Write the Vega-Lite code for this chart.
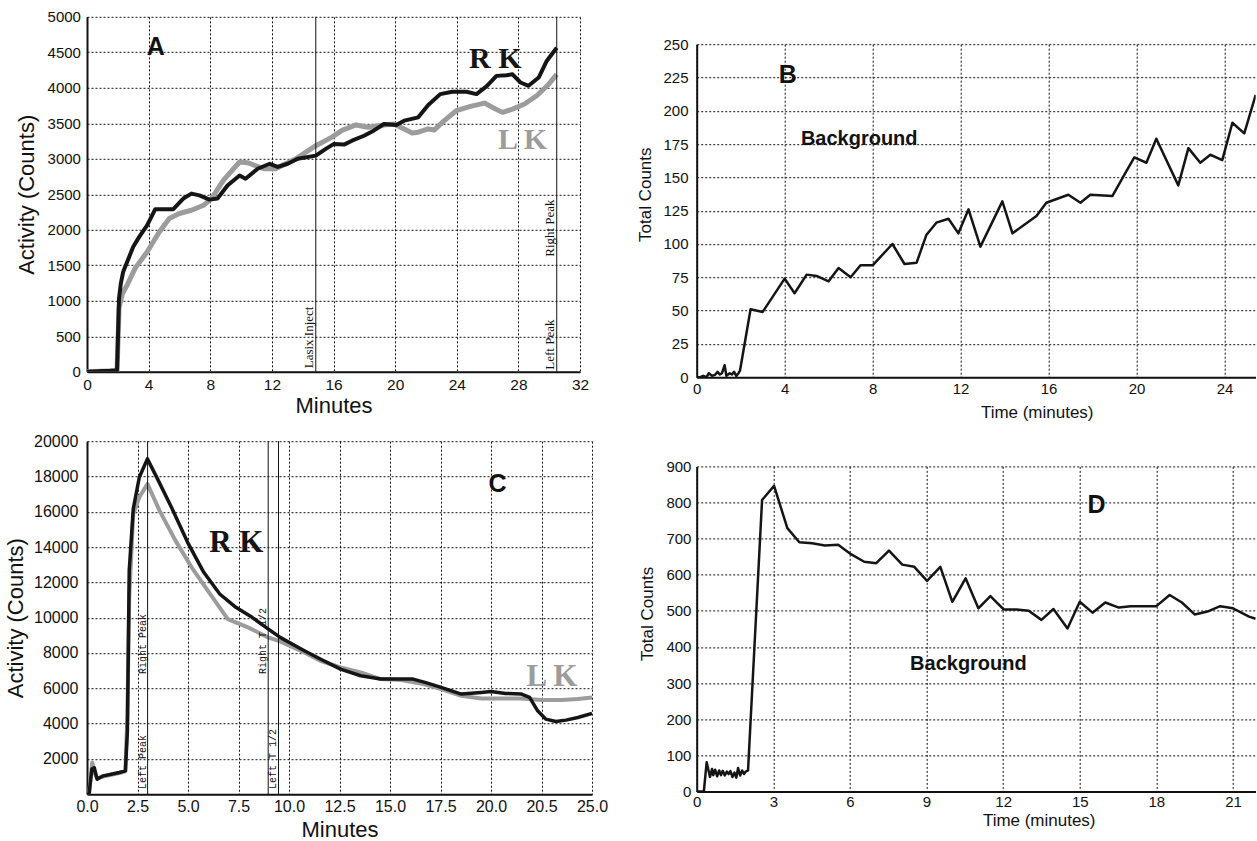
{
  "$schema": "https://vega.github.io/schema/vega-lite/v6.json",
  "padding": {"left": 4, "top": 9.8, "right": 0, "bottom": 0},
  "spacing": 27.7,
  "hconcat": [
    {
      "vconcat": [
        {
          "width": 493,
          "height": 355,
          "encoding": {
            "x": {"field": "t", "type": "quantitative", "scale": {"domain": [0, 32], "nice": false, "zero": false},
              "axis": {"values": [0, 4, 8, 12, 16, 20, 24, 28, 32], "format": "d", "labelOverlap": false, "title": "Minutes", "labelFontSize": 15.5, "titleFontSize": 22, "labelPadding": 6, "titlePadding": 2}},
            "y": {"field": "v", "type": "quantitative", "scale": {"domain": [0, 5000], "nice": false},
              "axis": {"values": [0, 500, 1000, 1500, 2000, 2500, 3000, 3500, 4000, 4500, 5000], "format": "d", "labelOverlap": false, "title": "Activity (Counts)", "labelFontSize": 15, "titleFontSize": 22, "labelPadding": 6.6, "titlePadding": 9}}
          },
          "layer": [
            {"data": {"name": "aLK"}, "mark": {"type": "line", "color": "#9c9c9c", "strokeWidth": 5, "clip": true, "strokeJoin": "round"}},
            {"data": {"name": "aRK"}, "mark": {"type": "line", "color": "#151515", "strokeWidth": 4, "clip": true, "strokeJoin": "round"}},
            {
              "data": {"values": [{"t": 14.85, "v": 0, "v2": 5000}, {"t": 30.49, "v": 0, "v2": 5000}]},
              "mark": {"type": "rule", "color": "#111111", "strokeWidth": 1},
              "encoding": {"y2": {"field": "v2"}}
            },
            {
              "data": {"values": [
                {"t": 14.85, "v": 50, "label": "Lasix Inject"},
                {"t": 30.49, "v": 1620, "label": "Right Peak"},
                {"t": 30.49, "v": 30, "label": "Left Peak"}
              ]},
              "mark": {"type": "text", "angle": 270, "align": "left", "baseline": "bottom", "font": "Liberation Serif", "fontSize": 13, "color": "#111111"},
              "encoding": {"text": {"field": "label"}}
            },
            {
              "data": {"values": [{"t": 4.46, "v": 4568, "label": "A"}]},
              "mark": {"type": "text", "font": "Liberation Sans", "fontWeight": "bold", "fontSize": 25, "color": "#111111", "align": "center", "baseline": "middle"},
              "encoding": {"text": {"field": "label"}}
            },
            {
              "data": {"values": [{"t": 26.5, "v": 4402, "label": "R K"}]},
              "mark": {"type": "text", "font": "Liberation Serif", "fontWeight": "bold", "fontSize": 30, "color": "#151515", "align": "center", "baseline": "middle"},
              "encoding": {"text": {"field": "label"}}
            },
            {
              "data": {"values": [{"t": 28.27, "v": 3271, "label": "L K"}]},
              "mark": {"type": "text", "font": "Liberation Serif", "fontWeight": "bold", "fontSize": 30, "color": "#9c9c9c", "align": "center", "baseline": "middle"},
              "encoding": {"text": {"field": "label"}}
            }
          ]
        },
        {
          "width": 505,
          "height": 353,
          "encoding": {
            "x": {"field": "t", "type": "quantitative", "scale": {"domain": [0, 25], "nice": false, "zero": false},
              "axis": {"values": [0, 2.5, 5, 7.5, 10, 12.5, 15, 17.5, 20, 22.5, 25], "labelOverlap": false, "labelExpr": "datum.value == 22.5 ? '20.5' : format(datum.value, '.1f')", "title": "Minutes", "labelFontSize": 16, "titleFontSize": 22, "labelPadding": 4, "titlePadding": 5}},
            "y": {"field": "v", "type": "quantitative", "scale": {"domain": [0, 20000], "nice": false},
              "axis": {"values": [2000, 4000, 6000, 8000, 10000, 12000, 14000, 16000, 18000, 20000], "format": "d", "labelOverlap": false, "title": "Activity (Counts)", "labelFontSize": 16, "titleFontSize": 22, "labelPadding": 9, "titlePadding": 6}}
          },
          "layer": [
            {"data": {"name": "cLK"}, "mark": {"type": "line", "color": "#9c9c9c", "strokeWidth": 4, "clip": true, "strokeJoin": "round"}},
            {"data": {"name": "cRK"}, "mark": {"type": "line", "color": "#151515", "strokeWidth": 3.5, "clip": true, "strokeJoin": "round"}},
            {
              "data": {"values": [{"t": 3.0, "v": 0, "v2": 20000}, {"t": 8.97, "v": 0, "v2": 20000}, {"t": 9.48, "v": 0, "v2": 20000}]},
              "mark": {"type": "rule", "color": "#111111", "strokeWidth": 1},
              "encoding": {"y2": {"field": "v2"}}
            },
            {
              "data": {"values": [
                {"t": 3.0, "v": 6816, "label": "Right Peak"},
                {"t": 3.0, "v": 300, "label": "Left Peak"},
                {"t": 8.97, "v": 6816, "label": "Right T 1/2"},
                {"t": 9.48, "v": 300, "label": "Left T 1/2"}
              ]},
              "mark": {"type": "text", "angle": 270, "align": "left", "baseline": "bottom", "font": "Liberation Mono", "fontSize": 10, "color": "#111111"},
              "encoding": {"text": {"field": "label"}}
            },
            {
              "data": {"values": [{"t": 20.32, "v": 17586, "label": "C"}]},
              "mark": {"type": "text", "font": "Liberation Sans", "fontWeight": "bold", "fontSize": 25, "color": "#111111", "align": "center", "baseline": "middle"},
              "encoding": {"text": {"field": "label"}}
            },
            {
              "data": {"values": [{"t": 7.39, "v": 14220, "label": "R K"}]},
              "mark": {"type": "text", "font": "Liberation Serif", "fontWeight": "bold", "fontSize": 31, "color": "#151515", "align": "center", "baseline": "middle"},
              "encoding": {"text": {"field": "label"}}
            },
            {
              "data": {"values": [{"t": 23.02, "v": 6630, "label": "L K"}]},
              "mark": {"type": "text", "font": "Liberation Serif", "fontWeight": "bold", "fontSize": 31, "color": "#9c9c9c", "align": "center", "baseline": "middle"},
              "encoding": {"text": {"field": "label"}}
            }
          ]
        }
      ],
      "spacing": 16.4
    },
    {
      "vconcat": [
        {
          "vconcat": [
            {
              "width": 559,
              "height": 1,
              "data": {"values": []},
              "mark": "point"
            },
            {
              "width": 559,
              "height": 333,
              "encoding": {
                "x": {"field": "t", "type": "quantitative", "scale": {"domain": [0, 25.42], "nice": false, "zero": false},
                  "axis": {"values": [0, 4, 8, 12, 16, 20, 24], "format": "d", "labelOverlap": false, "title": "Time (minutes)", "titleX": 340, "labelFontSize": 15, "titleFontSize": 17, "labelPadding": 4.5, "titlePadding": 8}},
                "y": {"field": "v", "type": "quantitative", "scale": {"domain": [0, 250], "nice": false},
                  "axis": {"values": [0, 25, 50, 75, 100, 125, 150, 175, 200, 225, 250], "format": "d", "labelOverlap": false, "title": "Total Counts", "titleY": 150, "labelFontSize": 15, "titleFontSize": 17, "labelPadding": 8.7, "titlePadding": 8.5}}
              },
              "layer": [
                {"data": {"name": "b"}, "mark": {"type": "line", "color": "#151515", "strokeWidth": 2.5, "clip": true, "strokeJoin": "round"}},
                {
                  "data": {"values": [{"t": 4.14, "v": 226.7, "label": "B"}]},
                  "mark": {"type": "text", "font": "Liberation Sans", "fontWeight": "bold", "fontSize": 25, "color": "#111111", "align": "center", "baseline": "middle"},
                  "encoding": {"text": {"field": "label"}}
                },
                {
                  "data": {"values": [{"t": 7.39, "v": 179, "label": "Background"}]},
                  "mark": {"type": "text", "font": "Liberation Sans", "fontWeight": "bold", "fontSize": 20, "color": "#111111", "align": "center", "baseline": "middle"},
                  "encoding": {"text": {"field": "label"}}
                }
              ]
            }
          ],
          "spacing": 26.4,
          "bounds": "flush"
        },
        {
          "width": 559,
          "height": 325,
          "encoding": {
            "x": {"field": "t", "type": "quantitative", "scale": {"domain": [0, 21.89], "nice": false, "zero": false},
              "axis": {"values": [0, 3, 6, 9, 12, 15, 18, 21], "format": "d", "labelOverlap": false, "title": "Time (minutes)", "titleX": 342, "labelFontSize": 15, "titleFontSize": 17, "labelPadding": 3.5, "titlePadding": 3}},
            "y": {"field": "v", "type": "quantitative", "scale": {"domain": [0, 900], "nice": false},
              "axis": {"values": [0, 100, 200, 300, 400, 500, 600, 700, 800, 900], "format": "d", "labelOverlap": false, "title": "Total Counts", "titleY": 147, "labelFontSize": 15, "titleFontSize": 17, "labelPadding": 5.8, "titlePadding": 9}}
          },
          "layer": [
            {"data": {"name": "d"}, "mark": {"type": "line", "color": "#151515", "strokeWidth": 2.5, "clip": true, "strokeJoin": "round"}},
            {
              "data": {"values": [{"t": 15.66, "v": 794, "label": "D"}]},
              "mark": {"type": "text", "font": "Liberation Sans", "fontWeight": "bold", "fontSize": 25, "color": "#111111", "align": "center", "baseline": "middle"},
              "encoding": {"text": {"field": "label"}}
            },
            {
              "data": {"values": [{"t": 10.64, "v": 354, "label": "Background"}]},
              "mark": {"type": "text", "font": "Liberation Sans", "fontWeight": "bold", "fontSize": 20, "color": "#111111", "align": "center", "baseline": "middle"},
              "encoding": {"text": {"field": "label"}}
            }
          ]
        }
      ],
      "spacing": 38.6
    }
  ],
  "datasets": {
    "aRK": [
      {"t": 0, "v": 0}, {"t": 0.5, "v": 5}, {"t": 1.0, "v": 10}, {"t": 1.5, "v": 15}, {"t": 1.82, "v": 20}, {"t": 1.95, "v": 20},
      {"t": 2.08, "v": 1040}, {"t": 2.2, "v": 1250}, {"t": 2.35, "v": 1410}, {"t": 2.61, "v": 1550}, {"t": 3.0, "v": 1760},
      {"t": 3.39, "v": 1900}, {"t": 3.91, "v": 2065}, {"t": 4.43, "v": 2290}, {"t": 5.6, "v": 2290}, {"t": 6.25, "v": 2440},
      {"t": 6.78, "v": 2510}, {"t": 7.3, "v": 2485}, {"t": 7.95, "v": 2425}, {"t": 8.47, "v": 2440}, {"t": 9.12, "v": 2625},
      {"t": 9.9, "v": 2765}, {"t": 10.29, "v": 2720}, {"t": 11.08, "v": 2860}, {"t": 11.86, "v": 2930}, {"t": 12.38, "v": 2885},
      {"t": 13.03, "v": 2930}, {"t": 13.68, "v": 3000}, {"t": 14.85, "v": 3045}, {"t": 15.5, "v": 3140}, {"t": 16.03, "v": 3210},
      {"t": 16.68, "v": 3200}, {"t": 17.2, "v": 3255}, {"t": 17.98, "v": 3325}, {"t": 18.63, "v": 3400}, {"t": 19.28, "v": 3490},
      {"t": 20.07, "v": 3477}, {"t": 20.59, "v": 3537}, {"t": 21.5, "v": 3584}, {"t": 22.15, "v": 3757}, {"t": 22.93, "v": 3911},
      {"t": 23.71, "v": 3944}, {"t": 24.63, "v": 3944}, {"t": 25.28, "v": 3911}, {"t": 25.93, "v": 4019}, {"t": 26.58, "v": 4168},
      {"t": 27.23, "v": 4178}, {"t": 27.62, "v": 4190}, {"t": 28.14, "v": 4075}, {"t": 28.66, "v": 4028}, {"t": 29.32, "v": 4145},
      {"t": 29.84, "v": 4378}, {"t": 30.49, "v": 4565}
    ],
    "aLK": [
      {"t": 0, "v": 0}, {"t": 1.82, "v": 15}, {"t": 1.95, "v": 15}, {"t": 2.08, "v": 900}, {"t": 2.3, "v": 1100},
      {"t": 2.61, "v": 1225}, {"t": 3.13, "v": 1460}, {"t": 3.91, "v": 1690}, {"t": 4.69, "v": 1970}, {"t": 5.34, "v": 2160},
      {"t": 5.99, "v": 2230}, {"t": 6.78, "v": 2275}, {"t": 7.56, "v": 2345}, {"t": 8.08, "v": 2440}, {"t": 8.86, "v": 2700},
      {"t": 9.9, "v": 2955}, {"t": 10.42, "v": 2945}, {"t": 11.47, "v": 2860}, {"t": 12.25, "v": 2860}, {"t": 13.55, "v": 3000},
      {"t": 14.85, "v": 3185}, {"t": 15.9, "v": 3305}, {"t": 16.55, "v": 3400}, {"t": 17.46, "v": 3477}, {"t": 18.24, "v": 3444},
      {"t": 19.28, "v": 3477}, {"t": 19.93, "v": 3490}, {"t": 20.59, "v": 3420}, {"t": 21.11, "v": 3364}, {"t": 21.5, "v": 3374},
      {"t": 22.15, "v": 3420}, {"t": 22.54, "v": 3406}, {"t": 23.19, "v": 3537}, {"t": 23.97, "v": 3677}, {"t": 24.89, "v": 3738},
      {"t": 25.8, "v": 3785}, {"t": 26.32, "v": 3724}, {"t": 26.97, "v": 3654}, {"t": 27.62, "v": 3700}, {"t": 28.4, "v": 3771},
      {"t": 29.19, "v": 3888}, {"t": 29.97, "v": 4051}, {"t": 30.49, "v": 4190}
    ],
    "b": [
      {"t": 0, "v": 0}, {"t": 0.15, "v": 0}, {"t": 0.3, "v": 1}, {"t": 0.45, "v": 0}, {"t": 0.55, "v": 3}, {"t": 0.7, "v": 1},
      {"t": 0.85, "v": 2}, {"t": 0.95, "v": 4}, {"t": 1.05, "v": 2}, {"t": 1.15, "v": 3}, {"t": 1.27, "v": 9}, {"t": 1.35, "v": 1},
      {"t": 1.5, "v": 3}, {"t": 1.6, "v": 2}, {"t": 1.7, "v": 4}, {"t": 1.8, "v": 1}, {"t": 1.9, "v": 3}, {"t": 1.97, "v": 5},
      {"t": 2.45, "v": 51}, {"t": 3.0, "v": 49}, {"t": 4.0, "v": 74}, {"t": 4.45, "v": 63}, {"t": 5.0, "v": 77}, {"t": 5.45, "v": 76},
      {"t": 6.0, "v": 72}, {"t": 6.45, "v": 82}, {"t": 7.0, "v": 75}, {"t": 7.45, "v": 84}, {"t": 8.0, "v": 84}, {"t": 8.9, "v": 100},
      {"t": 9.45, "v": 85}, {"t": 10.0, "v": 86}, {"t": 10.45, "v": 107}, {"t": 10.9, "v": 116}, {"t": 11.45, "v": 119},
      {"t": 11.9, "v": 108}, {"t": 12.36, "v": 126}, {"t": 12.9, "v": 98}, {"t": 13.9, "v": 132}, {"t": 14.36, "v": 108},
      {"t": 15.45, "v": 121}, {"t": 15.9, "v": 131}, {"t": 16.9, "v": 137}, {"t": 17.45, "v": 131}, {"t": 17.9, "v": 137},
      {"t": 18.9, "v": 136}, {"t": 19.45, "v": 152}, {"t": 19.9, "v": 165}, {"t": 20.45, "v": 161}, {"t": 20.9, "v": 179},
      {"t": 21.9, "v": 144}, {"t": 22.36, "v": 172}, {"t": 22.9, "v": 161}, {"t": 23.36, "v": 167}, {"t": 23.9, "v": 163},
      {"t": 24.36, "v": 191}, {"t": 24.9, "v": 183}, {"t": 25.42, "v": 212}
    ],
    "cRK": [
      {"t": 0, "v": 0}, {"t": 0.1, "v": 0}, {"t": 0.24, "v": 1420}, {"t": 0.36, "v": 1500}, {"t": 0.5, "v": 850},
      {"t": 0.8, "v": 1040}, {"t": 1.2, "v": 1134}, {"t": 1.6, "v": 1229}, {"t": 1.9, "v": 1323}, {"t": 2.0, "v": 3590},
      {"t": 2.09, "v": 12665}, {"t": 2.29, "v": 16163}, {"t": 2.59, "v": 17958}, {"t": 2.99, "v": 19000}, {"t": 3.49, "v": 17864},
      {"t": 4.18, "v": 16257}, {"t": 4.98, "v": 14272}, {"t": 5.78, "v": 12571}, {"t": 6.57, "v": 11342}, {"t": 7.37, "v": 10586},
      {"t": 8.17, "v": 10019}, {"t": 8.86, "v": 9452}, {"t": 9.56, "v": 8885}, {"t": 10.76, "v": 8129}, {"t": 11.55, "v": 7656},
      {"t": 12.55, "v": 7089}, {"t": 13.55, "v": 6711}, {"t": 14.54, "v": 6522}, {"t": 15.54, "v": 6522}, {"t": 16.14, "v": 6522},
      {"t": 16.73, "v": 6333}, {"t": 17.53, "v": 6049}, {"t": 18.53, "v": 5671}, {"t": 19.52, "v": 5765}, {"t": 20.0, "v": 5822},
      {"t": 20.72, "v": 5709}, {"t": 21.51, "v": 5671}, {"t": 21.91, "v": 5482}, {"t": 22.31, "v": 4726}, {"t": 22.71, "v": 4253},
      {"t": 23.21, "v": 4121}, {"t": 23.71, "v": 4197}, {"t": 24.3, "v": 4348}, {"t": 25.0, "v": 4575}
    ],
    "cLK": [
      {"t": 0, "v": 0}, {"t": 0.1, "v": 0}, {"t": 0.26, "v": 1796}, {"t": 0.4, "v": 1134}, {"t": 0.5, "v": 900},
      {"t": 0.8, "v": 1000}, {"t": 1.2, "v": 1100}, {"t": 1.6, "v": 1200}, {"t": 1.9, "v": 1300}, {"t": 2.0, "v": 4537},
      {"t": 2.09, "v": 11153}, {"t": 2.29, "v": 15879}, {"t": 2.59, "v": 16824}, {"t": 2.99, "v": 17580}, {"t": 3.59, "v": 16068},
      {"t": 4.38, "v": 14367}, {"t": 5.18, "v": 12854}, {"t": 5.98, "v": 11531}, {"t": 6.97, "v": 9924}, {"t": 7.97, "v": 9452},
      {"t": 8.96, "v": 8885}, {"t": 9.56, "v": 8658}, {"t": 10.76, "v": 8034}, {"t": 11.55, "v": 7561}, {"t": 12.55, "v": 7183},
      {"t": 13.55, "v": 6900}, {"t": 14.54, "v": 6522}, {"t": 15.54, "v": 6465}, {"t": 16.53, "v": 6276}, {"t": 17.53, "v": 5954},
      {"t": 18.53, "v": 5577}, {"t": 19.52, "v": 5425}, {"t": 20.52, "v": 5425}, {"t": 21.51, "v": 5425}, {"t": 22.51, "v": 5331},
      {"t": 23.51, "v": 5331}, {"t": 24.3, "v": 5388}, {"t": 25.0, "v": 5482}
    ],
    "d": [
      {"t": 0, "v": 0}, {"t": 0.28, "v": 0}, {"t": 0.39, "v": 81}, {"t": 0.45, "v": 62}, {"t": 0.52, "v": 40}, {"t": 0.6, "v": 62},
      {"t": 0.65, "v": 45}, {"t": 0.72, "v": 60}, {"t": 0.8, "v": 42}, {"t": 0.88, "v": 58}, {"t": 0.95, "v": 45}, {"t": 1.02, "v": 57},
      {"t": 1.1, "v": 44}, {"t": 1.18, "v": 55}, {"t": 1.25, "v": 48}, {"t": 1.32, "v": 56}, {"t": 1.4, "v": 40}, {"t": 1.48, "v": 52},
      {"t": 1.55, "v": 38}, {"t": 1.62, "v": 65}, {"t": 1.7, "v": 44}, {"t": 1.78, "v": 58}, {"t": 1.85, "v": 48}, {"t": 1.92, "v": 55},
      {"t": 2.01, "v": 58}, {"t": 2.56, "v": 807}, {"t": 3.03, "v": 846}, {"t": 3.55, "v": 729}, {"t": 4.02, "v": 690},
      {"t": 4.52, "v": 687}, {"t": 5.02, "v": 681}, {"t": 5.54, "v": 683}, {"t": 6.04, "v": 657}, {"t": 6.56, "v": 636},
      {"t": 7.03, "v": 632}, {"t": 7.53, "v": 667}, {"t": 8.05, "v": 628}, {"t": 8.52, "v": 622}, {"t": 9.02, "v": 583},
      {"t": 9.54, "v": 622}, {"t": 10.01, "v": 525}, {"t": 10.53, "v": 590}, {"t": 11.03, "v": 507}, {"t": 11.5, "v": 541},
      {"t": 12.02, "v": 504}, {"t": 12.52, "v": 504}, {"t": 13.0, "v": 500}, {"t": 13.5, "v": 475}, {"t": 13.97, "v": 505},
      {"t": 14.52, "v": 451}, {"t": 15.0, "v": 525}, {"t": 15.5, "v": 495}, {"t": 16.0, "v": 523}, {"t": 16.53, "v": 509},
      {"t": 17.0, "v": 513}, {"t": 18.0, "v": 513}, {"t": 18.52, "v": 544}, {"t": 19.0, "v": 523}, {"t": 19.5, "v": 490},
      {"t": 20.0, "v": 498}, {"t": 20.5, "v": 513}, {"t": 21.0, "v": 507}, {"t": 21.63, "v": 484}, {"t": 21.89, "v": 478}
    ]
  },
  "config": {
    "view": {"stroke": null},
    "axis": {
      "labelFont": "Liberation Sans",
      "titleFont": "Liberation Sans",
      "titleFontWeight": "normal",
      "labelColor": "#111111",
      "titleColor": "#111111",
      "domainColor": "#111111",
      "domainWidth": 2,
      "ticks": false,
      "grid": true,
      "gridColor": "#111111",
      "gridDash": [2, 2],
      "gridWidth": 1,
      "gridOpacity": 1,
      "labelFlush": false,
      "labelOverlap": false
    },
    "axisY": {"labelOverlap": false}
  }
}
